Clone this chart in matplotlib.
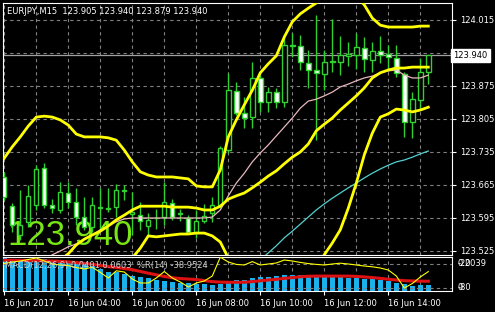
"""
EURJPY M15 chart, MetaTrader style: candles with Bollinger bands, two moving averages,
and a MACD / %R sub-window.
"""

import matplotlib
matplotlib.use('Agg')
import matplotlib.pyplot as plt
from matplotlib.transforms import blended_transform_factory
import numpy as np

plt.rcParams['font.family'] = 'DejaVu Sans'

# ---- data (one entry per 15 min bar, 02:00 ... 15:15) ----
opens = [123.682, 123.620, 123.559, 123.587, 123.623, 123.701, 123.623, 123.612, 123.648, 123.629,
         123.597, 123.576, 123.617, 123.615, 123.618, 123.654, 123.604, 123.601, 123.578, 123.595,
         123.597, 123.627, 123.604, 123.595, 123.565, 123.589, 123.606, 123.623, 123.739, 123.864,
         123.818, 123.809, 123.892, 123.841, 123.862, 123.841, 123.962, 123.960, 123.924, 123.909,
         123.900, 123.926, 123.926, 123.939, 123.941, 123.956, 123.930, 123.949, 123.943, 123.934,
         123.900, 123.799, 123.845, 123.905]
highs = [123.693, 123.627, 123.654, 123.665, 123.707, 123.712, 123.635, 123.671, 123.671, 123.659,
         123.640, 123.640, 123.659, 123.659, 123.667, 123.665, 123.650, 123.629, 123.606, 123.614,
         123.671, 123.635, 123.614, 123.601, 123.612, 123.625, 123.640, 123.748, 123.903, 123.883,
         123.852, 123.926, 123.898, 123.873, 123.871, 123.983, 123.987, 123.983, 123.951, 124.026,
         123.951, 124.017, 123.981, 123.968, 123.987, 123.979, 123.968, 123.981, 123.962, 123.962,
         123.905, 123.862, 123.934, 123.940]
lows = [123.633, 123.565, 123.548, 123.576, 123.612, 123.616, 123.606, 123.606, 123.616, 123.580,
        123.570, 123.565, 123.574, 123.608, 123.597, 123.633, 123.559, 123.570, 123.559, 123.572,
        123.580, 123.591, 123.589, 123.563, 123.553, 123.584, 123.587, 123.616, 123.733, 123.813,
        123.786, 123.786, 123.820, 123.820, 123.828, 123.830, 123.936, 123.909, 123.871, 123.760,
        123.866, 123.905, 123.898, 123.918, 123.911, 123.905, 123.905, 123.924, 123.909, 123.894,
        123.767, 123.765, 123.824, 123.879]
closes = [123.640, 123.580, 123.580, 123.642, 123.699, 123.623, 123.616, 123.650, 123.629, 123.597,
          123.576, 123.623, 123.619, 123.617, 123.654, 123.653, 123.608, 123.589, 123.591, 123.596,
          123.629, 123.597, 123.605, 123.565, 123.589, 123.599, 123.623, 123.743, 123.866, 123.818,
          123.807, 123.892, 123.841, 123.862, 123.841, 123.962, 123.959, 123.926, 123.909, 123.903,
          123.926, 123.928, 123.941, 123.943, 123.958, 123.932, 123.949, 123.941, 123.936, 123.903,
          123.799, 123.847, 123.905, 123.940]

bb_upper = [123.722, 123.746, 123.767, 123.790, 123.809, 123.811, 123.809, 123.803, 123.792, 123.773,
            123.767, 123.767, 123.767, 123.765, 123.760, 123.739, 123.714, 123.693, 123.686, 123.682,
            123.682, 123.682, 123.680, 123.678, 123.663, 123.661, 123.661, 123.697, 123.767, 123.803,
            123.835, 123.866, 123.903, 123.922, 123.939, 123.979, 124.011, 124.028, 124.040, 124.051,
            124.064, 124.074, 124.079, 124.074, 124.064, 124.047, 124.019, 124.004, 124.000, 124.000,
            124.000, 124.000, 124.002, 124.002]
bb_middle = [123.421, 123.432, 123.442, 123.453, 123.468, 123.480, 123.493, 123.506, 123.519, 123.538,
             123.550, 123.559, 123.567, 123.578, 123.591, 123.601, 123.612, 123.620, 123.620, 123.620,
             123.620, 123.618, 123.618, 123.618, 123.616, 123.612, 123.612, 123.620, 123.635, 123.642,
             123.648, 123.659, 123.671, 123.684, 123.695, 123.710, 123.724, 123.735, 123.752, 123.780,
             123.794, 123.807, 123.824, 123.839, 123.854, 123.871, 123.892, 123.903, 123.909, 123.913,
             123.913, 123.915, 123.915, 123.915]
bb_lower = [123.120, 123.120, 123.120, 123.120, 123.130, 123.150, 123.180, 123.210, 123.250, 123.300,
            123.340, 123.350, 123.370, 123.390, 123.420, 123.460, 123.510, 123.531, 123.557, 123.555,
            123.557, 123.559, 123.561, 123.561, 123.563, 123.563, 123.557, 123.544, 123.510, 123.481,
            123.461, 123.451, 123.440, 123.447, 123.451, 123.440, 123.438, 123.442, 123.464, 123.495,
            123.517, 123.542, 123.570, 123.616, 123.669, 123.729, 123.775, 123.809, 123.816, 123.826,
            123.824, 123.820, 123.824, 123.830]
ma_pink = [123.453, 123.464, 123.472, 123.483, 123.493, 123.502, 123.517, 123.525, 123.534, 123.540,
           123.550, 123.559, 123.570, 123.578, 123.587, 123.593, 123.595, 123.595, 123.595, 123.595,
           123.595, 123.595, 123.595, 123.595, 123.595, 123.595, 123.597, 123.612, 123.642, 123.669,
           123.690, 123.714, 123.733, 123.750, 123.769, 123.788, 123.807, 123.828, 123.843, 123.847,
           123.854, 123.862, 123.873, 123.879, 123.886, 123.892, 123.896, 123.903, 123.907, 123.909,
           123.898, 123.892, 123.892, 123.898]
ma_cyan = [np.nan] * 30 + [
    123.474, 123.489, 123.506, 123.521, 123.536, 123.553, 123.567, 123.582, 123.597, 123.612,
    123.625, 123.637, 123.648, 123.659, 123.669, 123.680, 123.690, 123.699, 123.707, 123.714,
    123.718, 123.724, 123.731, 123.737]

macd_hist = [0.2039, 0.198, 0.198, 0.198, 0.198, 0.195, 0.192, 0.192, 0.186, 0.180,
             0.168, 0.156, 0.138, 0.120, 0.117, 0.102, 0.090, 0.084, 0.078, 0.066,
             0.060, 0.054, 0.051, 0.048, 0.042, 0.042, 0.036, 0.042, 0.054, 0.066,
             0.069, 0.078, 0.084, 0.088, 0.090, 0.096, 0.098, 0.096, 0.096, 0.093,
             0.092, 0.090, 0.087, 0.082, 0.081, 0.076, 0.072, 0.068, 0.062, 0.052,
             0.042, 0.033, 0.036, 0.0401]
macd_signal = [0.190, 0.190, 0.189, 0.188, 0.187, 0.186, 0.185, 0.183, 0.180, 0.176,
               0.171, 0.165, 0.158, 0.151, 0.145, 0.139, 0.132, 0.121, 0.110, 0.100,
               0.090, 0.082, 0.077, 0.074, 0.071, 0.064, 0.058, 0.055, 0.054, 0.054,
               0.054, 0.058, 0.063, 0.068, 0.072, 0.078, 0.083, 0.088, 0.091, 0.092,
               0.092, 0.092, 0.092, 0.092, 0.090, 0.087, 0.083, 0.078, 0.073, 0.068,
               0.064, 0.062, 0.061, 0.0603]
williams_r = [-18.8, -15.0, -12.5, -8.8, -5.0, -12.5, -20.0, -22.5, -24.0, -28.8,
              -32.5, -28.0, -41.0, -55.0, -37.0, -40.0, -57.5, -67.5, -67.5, -55.0,
              -38.8, -55.0, -65.0, -77.5, -67.5, -62.5, -50.0, -3.0, -15.0, -21.0,
              -22.5, -14.0, -22.5, -20.0, -17.5, -10.0, -12.5, -16.0, -19.0, -21.0,
              -22.5, -20.0, -18.0, -20.0, -22.5, -25.0, -27.0, -30.0, -35.0, -50.0,
              -80.0, -68.8, -52.5, -38.9524]

price_ticks = [124.015, 123.945, 123.875, 123.805, 123.735, 123.665, 123.595, 123.525]
price_labels = ['124.015', '', '123.875', '123.805', '123.735', '123.665', '123.595', '123.525']
last_price = 123.940
hour_ticks = list(range(0, 54, 4))
time_ticks = [0, 8, 16, 24, 32, 40, 48]
time_labels = ['16 Jun 2017', '16 Jun 04:00', '16 Jun 06:00', '16 Jun 08:00',
               '16 Jun 10:00', '16 Jun 12:00', '16 Jun 14:00']
header = 'EURJPY,M15  123.905 123.940 123.879 123.940'
sub_header = 'MACD(12,26,9) 0.0401 0.0603  %R(14) -38.9524'

GREEN = '#2ED12E'
GRID = '#808080'
W, H = 495, 312


def frac(x0, y0, x1, y1):
    return [x0 / W, 1 - y1 / H, (x1 - x0) / W, (y1 - y0) / H]


fig = plt.figure(figsize=(W / 100, H / 100), dpi=100, facecolor='black')
ax = fig.add_axes(frac(3, 3, 452, 255))
axs = fig.add_axes(frac(3, 257, 452, 291))
axr = axs.twinx()

x = np.arange(len(opens))
o, h, l, c = (np.array(v) for v in (opens, highs, lows, closes))
xlim = (-0.16, 55.96)

# ---- main chart ----
ax.set_facecolor('black')
ax.set_xlim(*xlim)
ax.set_ylim(123.5165, 124.051)
ax.set_xticks(hour_ticks)
ax.tick_params(axis='x', length=0, labelbottom=False)
ax.yaxis.tick_right()
ax.set_yticks(price_ticks)
ax.set_yticklabels(price_labels)
ax.tick_params(axis='y', colors='white', labelsize=6, length=3, pad=2.5)
ax.grid(True, color=GRID, ls=(0, (3, 3)), lw=0.8, zorder=0)
ax.set_axisbelow(True)
for sp in ax.spines.values():
    sp.set_color('white')
    sp.set_linewidth(0.8)

ax.axhline(last_price, color='#a0a0a0', lw=0.9, zorder=1)

ax.text(0.009, 0.04, '123.940', transform=ax.transAxes, fontsize=25,
        family='Liberation Sans', color='#78E614', va='baseline', zorder=2)

ax.vlines(x, l, h, color=GREEN, lw=1, zorder=3)
bear = c < o
body_h = np.maximum(np.abs(c - o), 0.0008)
ax.bar(x, body_h, 0.55, bottom=np.minimum(o, c),
       color=np.where(bear, 'white', 'black'), edgecolor=GREEN, lw=1, zorder=4)

ax.plot(x, ma_cyan, color='#55D0D0', lw=0.9, zorder=5)
ax.plot(x, ma_pink, color='#E8B8BC', lw=0.9, zorder=5)
for band in (bb_upper, bb_middle, bb_lower):
    ax.plot(x, band, color='#FFFF00', lw=2, zorder=6)

ax.text(0.009, 0.968, header, transform=ax.transAxes, fontsize=6, color='white',
        va='center', zorder=7)
ax.text(1.003, last_price, '123.940', transform=blended_transform_factory(ax.transAxes, ax.transData),
        fontsize=6, color='black', va='center', ha='left', clip_on=False, zorder=8,
        bbox=dict(boxstyle='square,pad=0.25', fc='white', ec='white'))

# ---- MACD / %R sub-window ----
axs.set_facecolor('black')
axs.set_xlim(*xlim)
axs.set_ylim(0, 0.2101)
axs.bar(x, macd_hist, 0.6, color='#1AB2EC', zorder=2)
axs.plot(x, macd_signal, color='#DD1111', lw=2.2, zorder=3)
axs.set_yticks([])
axs.set_xticks(time_ticks)
axs.set_xticklabels(time_labels)
axs.set_xticks(hour_ticks, minor=True)
axs.tick_params(axis='x', which='major', colors='white', labelsize=6, length=3, pad=3)
axs.tick_params(axis='x', which='minor', length=0)
for lab in axs.get_xticklabels():
    lab.set_horizontalalignment('left')
axs.grid(True, axis='x', which='both', color=GRID, ls=(0, (3, 3)), lw=0.8)
axs.set_axisbelow(True)
for sp in axs.spines.values():
    sp.set_color('white')
    sp.set_linewidth(0.8)

axr.set_ylim(-87.5, -2.5)
axr.set_yticks([])
axr.patch.set_visible(False)
for sp in axr.spines.values():
    sp.set_visible(False)
for lvl in (-20, -80):
    axr.axhline(lvl, color=GRID, ls=(0, (3, 3)), lw=0.8, zorder=1)
axr.plot(x, williams_r, color='#FFFF00', lw=0.8, zorder=4)

tr = blended_transform_factory(axr.transAxes, axr.transData)
for txt, yv in (('0.2039', -20), ('-20', -20), ('0', -80), ('-80', -80)):
    axr.text(1.013, yv, txt, transform=tr, fontsize=6, color='white', va='center',
             ha='left', clip_on=False)

axr.text(0.005, 0.76, sub_header, transform=axr.transAxes, fontsize=6, color='#d0d0d0',
         va='center', zorder=5)

fig.savefig('out.png', dpi=100, facecolor='black')
